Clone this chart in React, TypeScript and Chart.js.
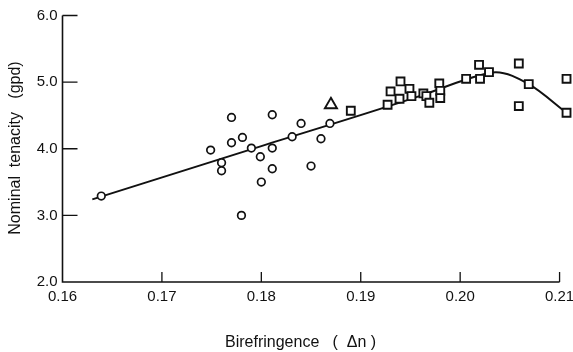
import React, { useEffect, useRef } from "react";
import { Chart, registerables } from "chart.js";

Chart.register(...registerables);

const circleX = [0.1639, 0.1749, 0.176, 0.176, 0.177, 0.177, 0.178, 0.1781, 0.179, 0.1799, 0.18, 0.1811, 0.1811, 0.1811, 0.1831, 0.184, 0.185, 0.186, 0.1869];
const circleY = [3.29, 3.98, 3.79, 3.67, 4.47, 4.09, 3.0, 4.17, 4.01, 3.88, 3.5, 4.51, 4.01, 3.7, 4.18, 4.38, 3.74, 4.15, 4.38];

const squareX = [0.189, 0.1927, 0.193, 0.1939, 0.194, 0.1949, 0.1951, 0.1963, 0.1966, 0.1969, 0.1979, 0.198, 0.198, 0.2006, 0.2019, 0.202, 0.2029, 0.2059, 0.2059, 0.2069, 0.2107, 0.2107];
const squareY = [4.57, 4.66, 4.86, 4.75, 5.01, 4.9, 4.79, 4.83, 4.79, 4.69, 4.98, 4.87, 4.76, 5.05, 5.26, 5.05, 5.15, 5.28, 4.64, 4.97, 5.05, 4.54];

const triangleX = [0.187];
const triangleY = [4.66];

const fitX = [0.163, 0.18, 0.1965, 0.2006, 0.2036, 0.2069, 0.2107];
const fitY = [3.24, 4.04, 4.82, 5.04, 5.15, 4.97, 4.54];

const xTicks = [0.16, 0.17, 0.18, 0.19, 0.2, 0.21];
const yTicks = [2.0, 3.0, 4.0, 5.0, 6.0];

const xTitle = "Birefringence   (  \u0394n )";
const yTitle = "Nominal  tenacity   (gpd)";

const INK = "#111";

const pts = (xs: number[], ys: number[]) => xs.map((x, i) => ({ x, y: ys[i] }));

const axesPlugin = {
  id: "paperAxes",
  afterDraw(chart: any) {
    const { ctx, scales } = chart;
    const xs = scales.x;
    const ys = scales.y;
    const left = xs.getPixelForValue(0.16);
    const right = xs.getPixelForValue(0.21);
    const top = ys.getPixelForValue(6);
    const bottom = ys.getPixelForValue(2);
    ctx.save();
    ctx.strokeStyle = INK;
    ctx.lineWidth = 1.6;
    ctx.beginPath();
    ctx.moveTo(left, top);
    ctx.lineTo(left, bottom);
    ctx.lineTo(right, bottom);
    ctx.stroke();
    ctx.lineWidth = 1.3;
    ctx.beginPath();
    yTicks.forEach((v) => {
      const py = ys.getPixelForValue(v);
      if (v === 2) return;
      ctx.moveTo(left, py);
      ctx.lineTo(left + 15, py);
    });
    xTicks.forEach((v) => {
      if (v === 0.16) return;
      const px = xs.getPixelForValue(v);
      ctx.moveTo(px, bottom);
      ctx.lineTo(px, bottom - 10);
    });
    ctx.stroke();

    ctx.fillStyle = INK;
    ctx.font = "16px 'Liberation Sans', Arial, sans-serif";
    ctx.textBaseline = "middle";
    ctx.textAlign = "left";
    ctx.fillText(xTitle, 225, 343);

    ctx.translate(16, 148);
    ctx.rotate(-Math.PI / 2);
    ctx.textAlign = "center";
    ctx.fillText(yTitle, 0, 0);
    ctx.restore();
  },
};

export default function App() {
  const ref = useRef<HTMLCanvasElement | null>(null);

  useEffect(() => {
    if (!ref.current) return;
    const tickFont = { family: "'Liberation Sans', Arial, sans-serif", size: 15 };
    const chart = new Chart(ref.current, {
      type: "scatter",
      data: {
        datasets: [
          {
            label: "circles",
            data: pts(circleX, circleY),
            pointStyle: "circle",
            pointRadius: 3.8,
            borderColor: INK,
            backgroundColor: "#fff",
            borderWidth: 1.7,
            clip: false,
          } as any,
          {
            label: "squares",
            data: pts(squareX, squareY),
            pointStyle: "rect",
            pointRadius: 5.6,
            borderColor: INK,
            backgroundColor: "#fff",
            borderWidth: 1.9,
            clip: false,
          } as any,
          {
            label: "triangle",
            data: pts(triangleX, triangleY),
            pointStyle: "triangle",
            pointRadius: 7,
            borderColor: INK,
            backgroundColor: "#fff",
            borderWidth: 1.9,
            clip: false,
          } as any,
          {
            type: "line",
            label: "fit",
            data: pts(fitX, fitY),
            borderColor: INK,
            borderWidth: 2,
            pointRadius: 0,
            showLine: true,
            fill: false,
            cubicInterpolationMode: "monotone",
            clip: false,
          } as any,
        ],
      },
      options: {
        animation: false,
        responsive: false,
        events: [],
        layout: { autoPadding: false, padding: { top: 15.5, right: 1.5, left: 0, bottom: 0 } },
        plugins: { legend: { display: false }, tooltip: { enabled: false } },
        scales: {
          x: {
            type: "linear",
            min: 0.16,
            max: 0.2112,
            grid: { display: false, drawTicks: false },
            border: { display: false },
            ticks: {
              stepSize: 0.01,
              includeBounds: false,
              color: INK,
              font: tickFont,
              padding: 6,
              maxRotation: 0,
              autoSkip: false,
              callback: (v: any) => Number(v).toFixed(2),
            },
            afterFit: (s: any) => {
              s.height = 70;
              s.paddingLeft = 0;
              s.paddingRight = 0;
            },
          },
          y: {
            type: "linear",
            min: 2,
            max: 6,
            grid: { display: false, drawTicks: false },
            border: { display: false },
            ticks: {
              stepSize: 1,
              color: INK,
              font: tickFont,
              padding: 5,
              callback: (v: any) => Number(v).toFixed(1),
            },
            afterFit: (s: any) => {
              s.width = 62.5;
              s.paddingTop = 0;
              s.paddingBottom = 0;
            },
          },
        },
      },
      plugins: [axesPlugin],
    } as any);
    return () => chart.destroy();
  }, []);

  return (
    <div style={{ position: "fixed", left: 0, top: 0, width: 573, height: 352, background: "#fff" }}>
      <canvas ref={ref} width={573} height={352} style={{ display: "block" }} />
    </div>
  );
}
